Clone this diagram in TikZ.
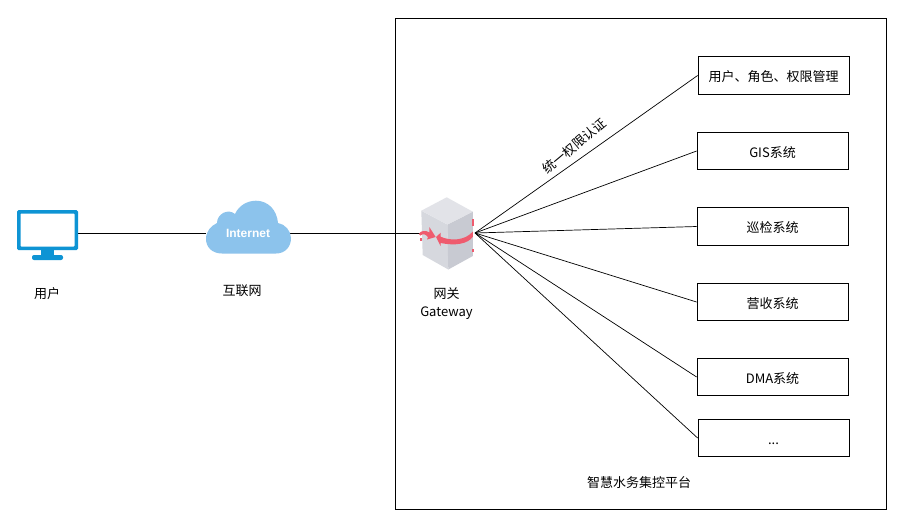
\documentclass[tikz,border=0pt]{standalone}
\usepackage{fontspec}
\setmainfont{Noto Sans CJK SC}
\newfontfamily\netfont{Liberation Sans}
\definecolor{pcblue}{HTML}{0E94D4}
\definecolor{cloudblue}{HTML}{8CC3EC}
\definecolor{cubeside}{HTML}{D6D8DE}
\definecolor{cubedark}{HTML}{C8CAD2}
\definecolor{cubetop}{HTML}{E2E3E8}
\definecolor{gwred}{HTML}{EF5B6E}
\begin{document}
\begin{tikzpicture}[x=1pt,y=-1pt,
  box/.style={draw=black,line width=0.8pt,fill=white,minimum width=151pt,minimum height=37.5pt,inner sep=0pt,text height=16pt,text depth=3.2pt,font=\fontsize{13}{15}\selectfont},
  lbl/.style={inner sep=0pt,font=\fontsize{13}{18}\selectfont,align=center},
  wire/.style={draw=black,line width=0.7pt}]
\useasboundingbox (0,0) rectangle (910,531);
\fill[white] (0,0) rectangle (910,531);
\node[draw=black,line width=0.7pt,minimum width=491pt,minimum height=491pt,inner sep=0pt] (platform) at (640.5,263.5) {};
\node[box] (b1) at (773.5,75.5) {用户、角色、权限管理};
\node[box] (b2) at (772.5,151) {GIS系统};
\node[box] (b3) at (772.5,226.5) {巡检系统};
\node[box] (b4) at (772.5,302) {营收系统};
\node[box] (b5) at (772.5,377) {DMA系统};
\node[box] (b6) at (773.5,438) {...};
\coordinate (hub) at (475,233);
\coordinate (pcport) at (77,233);
\coordinate (cloudl) at (206,233);
\coordinate (cloudr) at (290,233);
\coordinate (gwl) at (421,233);
\draw[wire] (pcport) -- (cloudl);
\draw[wire] (cloudr) -- (gwl);
\foreach \b in {b1,b2,b3,b4,b5,b6}{\draw[wire] (hub) -- (\b.west);}
% monitor
\fill[pcblue,rounded corners=1.5pt] (17,210) rectangle (78,250);
\fill[white,rounded corners=0.8pt] (20.5,213.5) rectangle (74.5,246.5);
\fill[pcblue] (41,249) rectangle (53.5,256);
\fill[pcblue,rounded corners=2pt] (32,255) rectangle (63,260);
\node[lbl] (tuser) at (47,293.5) {用户};
% cloud
\fill[cloudblue] (222,253.5)
  .. controls (212,253.5) and (206,247) .. (206,239)
  .. controls (206,231) and (211,226) .. (217,223)
  .. controls (217,214) and (228,208) .. (235,214)
  .. controls (239,205) and (248,200.7) .. (256,200.7)
  .. controls (268,200.7) and (277,210) .. (278,223)
  .. controls (285,224) and (291,231) .. (291,238)
  .. controls (291,247) and (285,253.5) .. (276,253.5) -- cycle;
\node[inner sep=0pt,text=white,font=\netfont\bfseries\fontsize{12}{14}\selectfont] (tnet) at (248,233) {Internet};
\node[lbl] (tcloud) at (242,290.5) {互联网};
% gateway cube
\fill[cubeside] (421.3,210.7) -- (447.3,224.5) -- (448.3,269.5) -- (422.7,255) -- cycle;
\fill[cubedark] (447.3,224.5) -- (472.8,211.7) -- (472.8,256) -- (448.3,269.5) -- cycle;
\fill[cubetop] (421.3,210.7) -- (446.7,197.3) -- (472.8,211.7) -- (447.3,224.5) -- cycle;
% arrows on the cube
\fill[gwred] (435.7,237) -- (429.3,227) -- (429.5,232.5) .. controls (426,230) and (420,230.5) .. (419,234) -- (420.5,235.5) .. controls (423,233) and (426,234.5) .. (428,237) -- (427,239.5) -- cycle;
\fill[gwred] (419.5,238) rectangle (421.5,240.5);
\fill[gwred] (436,237) -- (440.7,232.7) -- (440.7,236.7) .. controls (450,241) and (465,241) .. (472.8,231.5) -- (472.8,236.7) .. controls (468,244) and (455,246) .. (440.7,243) -- (440.7,246.2) -- cycle;
\fill[gwred] (472,219) rectangle (473.5,226);
\fill[gwred] (472,249) rectangle (474,252);
\node[lbl] (tgw) at (446.5,304) {网关\\Gateway};
\node[lbl,rotate=40] (tauth) at (574.5,146) {统一权限认证};
\node[lbl] (tplat) at (639,482.5) {智慧水务集控平台};
\end{tikzpicture}
\end{document}
